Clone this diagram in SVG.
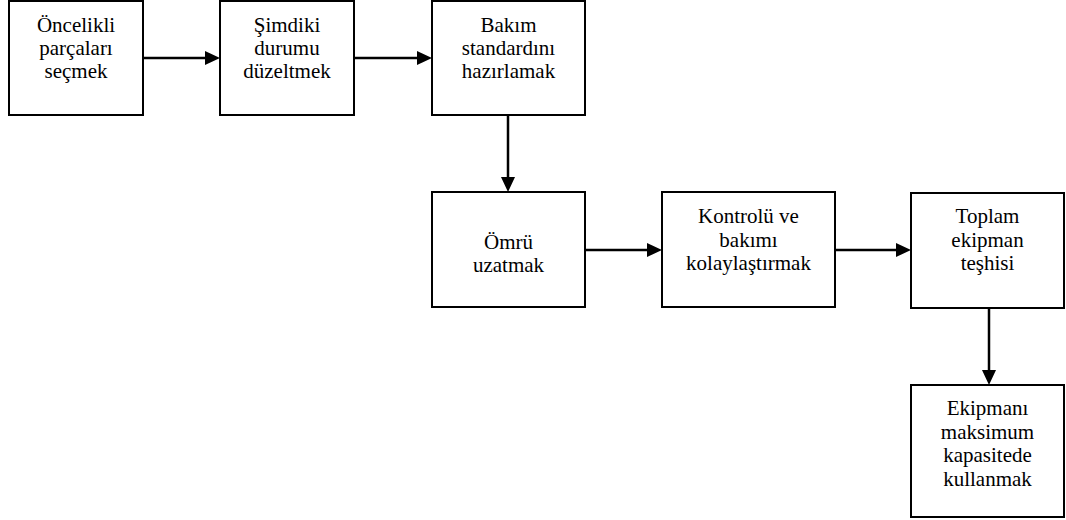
<svg xmlns="http://www.w3.org/2000/svg" width="1066" height="520" viewBox="0 0 1066 520">
  <style>
    .box { fill: #ffffff; stroke: #000000; stroke-width: 2; }
    .lbl { font-family: "Liberation Serif", "Times New Roman", serif; font-size: 21px; fill: #000000; text-anchor: middle; }
    .wire { stroke: #000000; stroke-width: 2.5; fill: none; }
    .head { fill: #000000; }
  </style>
  <rect width="1066" height="520" fill="#ffffff"/>

  <!-- connectors -->
  <g id="connectors">
    <line class="wire" x1="143" y1="58" x2="206" y2="58"/>
    <polygon class="head" points="220,58 205,51 205,65"/>
    <line class="wire" x1="354" y1="58" x2="418" y2="58"/>
    <polygon class="head" points="432,58 417,51 417,65"/>
    <line class="wire" x1="508" y1="115" x2="508" y2="178"/>
    <polygon class="head" points="508,192 501,177 515,177"/>
    <line class="wire" x1="585" y1="250" x2="648" y2="250"/>
    <polygon class="head" points="662,250 647,243 647,257"/>
    <line class="wire" x1="835" y1="250" x2="897" y2="250"/>
    <polygon class="head" points="911,250 896,243 896,257"/>
    <line class="wire" x1="989" y1="308" x2="989" y2="371"/>
    <polygon class="head" points="989,385 982,370 996,370"/>
  </g>

  <g id="n1">
    <rect class="box" x="9" y="1" width="134" height="114"/>
    <text class="lbl" x="76" y="32">Öncelikli</text>
    <text class="lbl" x="76" y="55">parçaları</text>
    <text class="lbl" x="76" y="78">seçmek</text>
  </g>
  <g id="n2">
    <rect class="box" x="220" y="1" width="134" height="114"/>
    <text class="lbl" x="287" y="32">Şimdiki</text>
    <text class="lbl" x="287" y="55">durumu</text>
    <text class="lbl" x="287" y="78">düzeltmek</text>
  </g>
  <g id="n3">
    <rect class="box" x="432" y="1" width="153" height="114"/>
    <text class="lbl" x="508.5" y="32">Bakım</text>
    <text class="lbl" x="508.5" y="55">standardını</text>
    <text class="lbl" x="508.5" y="78">hazırlamak</text>
  </g>
  <g id="n4">
    <rect class="box" x="432" y="192" width="153" height="115"/>
    <text class="lbl" x="508.5" y="249">Ömrü</text>
    <text class="lbl" x="508.5" y="272">uzatmak</text>
  </g>
  <g id="n5">
    <rect class="box" x="662" y="192" width="173" height="115"/>
    <text class="lbl" x="748.5" y="223">Kontrolü ve</text>
    <text class="lbl" x="748.5" y="246.5">bakımı</text>
    <text class="lbl" x="748.5" y="270">kolaylaştırmak</text>
  </g>
  <g id="n6">
    <rect class="box" x="911" y="193" width="153" height="115"/>
    <text class="lbl" x="987.5" y="223">Toplam</text>
    <text class="lbl" x="987.5" y="246.5">ekipman</text>
    <text class="lbl" x="987.5" y="270">teşhisi</text>
  </g>
  <g id="n7">
    <rect class="box" x="911" y="385" width="153" height="132"/>
    <text class="lbl" x="987.5" y="415">Ekipmanı</text>
    <text class="lbl" x="987.5" y="438.5">maksimum</text>
    <text class="lbl" x="987.5" y="462">kapasitede</text>
    <text class="lbl" x="987.5" y="485.5">kullanmak</text>
  </g>
</svg>
